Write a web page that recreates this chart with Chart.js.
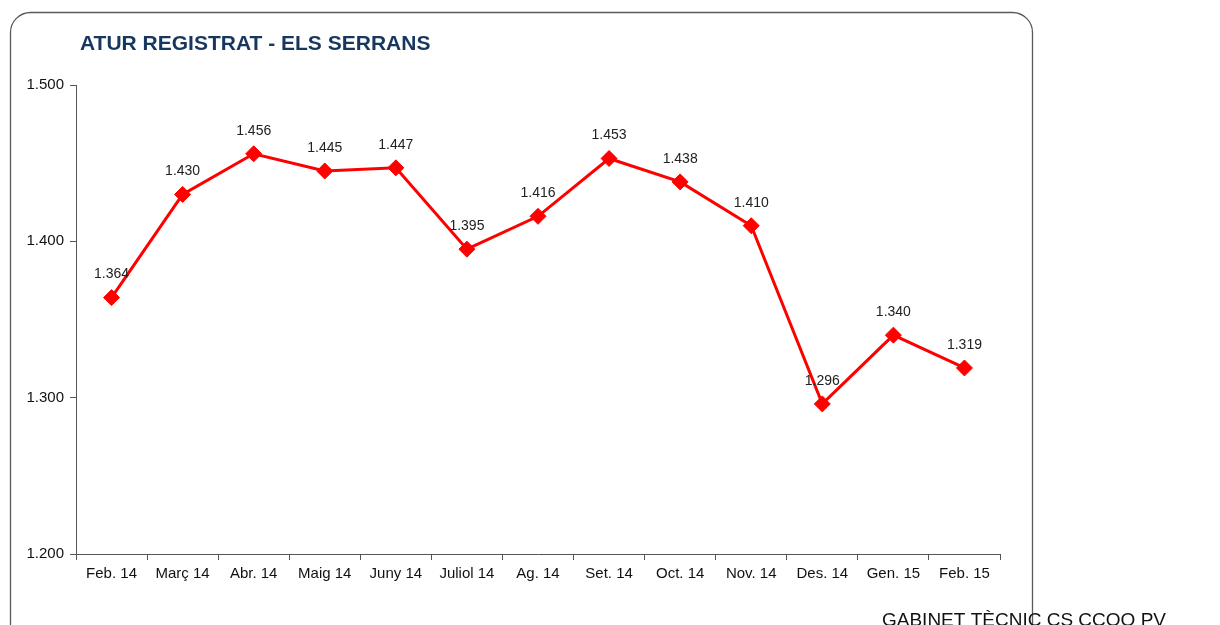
<!DOCTYPE html>
<html>
<head>
<meta charset="utf-8">
<script src="https://cdn.jsdelivr.net/npm/chart.js@4.4.0/dist/chart.umd.min.js"></script>
<style>
  html, body { margin: 0; padding: 0; background: #fff; }
  #wrap { position: relative; width: 1220px; height: 625px; }
</style>
</head>
<body>
<div id="wrap"><canvas id="lineChart" width="1220" height="625"></canvas></div>
<script>
var mesos = ["Feb. 14", "Març 14", "Abr. 14", "Maig 14", "Juny 14", "Juliol 14", "Ag. 14", "Set. 14", "Oct. 14", "Nov. 14", "Des. 14", "Gen. 15", "Feb. 15"];
var aturats = [1364, 1430, 1456, 1445, 1447, 1395, 1416, 1453, 1438, 1410, 1296, 1340, 1319];
var yTicks = [1200, 1300, 1400, 1500];

var titol = "ATUR REGISTRAT - ELS SERRANS";
var peu = "GABINET TÈCNIC CS CCOO PV";

// 1364 -> "1.364"
function punts(v) {
    return String(v).replace(/\B(?=(\d{3})+(?!\d))/g, ".");
}

// marc arrodonit, titol i peu
var marcPlugin = {
    id: 'marc',
    beforeDraw: function(chart) {
        var ctx = chart.ctx;
        ctx.save();
        ctx.fillStyle = '#fff';
        ctx.fillRect(0, 0, chart.width, chart.height);
        ctx.strokeStyle = '#5a5a5a';
        ctx.lineWidth = 1.3;
        ctx.beginPath();
        ctx.roundRect(10.5, 12.5, 1022, 660, 20);
        ctx.stroke();
        ctx.restore();
    },
    afterDraw: function(chart) {
        var ctx = chart.ctx;
        ctx.save();
        ctx.fillStyle = '#17375E';
        ctx.font = 'bold 21px "Liberation Sans", Arial, sans-serif';
        ctx.textBaseline = 'alphabetic';
        ctx.fillText(titol, 80, 50);
        ctx.fillStyle = '#111';
        ctx.font = '19px "Liberation Sans", Arial, sans-serif';
        ctx.fillText(peu, 882, 626);
        ctx.restore();
    }
};

// etiquetes damunt de cada punt
var etiquetesPlugin = {
    id: 'etiquetes',
    afterDatasetsDraw: function(chart) {
        var ctx = chart.ctx;
        var meta = chart.getDatasetMeta(0);
        ctx.save();
        ctx.fillStyle = '#222';
        ctx.font = '14px "Liberation Sans", Arial, sans-serif';
        ctx.textAlign = 'center';
        ctx.textBaseline = 'middle';
        meta.data.forEach(function(pt, i) {
            ctx.fillText(punts(aturats[i]), pt.x, pt.y - 23);
        });
        ctx.restore();
    }
};

window.onload = function() {
    var ctx = document.getElementById("lineChart").getContext('2d');
    var chart = new Chart(ctx, {
        type: 'line',
        data: {
            labels: mesos,
            datasets: [{
                data: aturats,
                borderColor: '#FF0000',
                backgroundColor: '#FF0000',
                borderWidth: 3,
                pointStyle: 'rectRot',
                pointRadius: 8,
                pointHoverRadius: 8,
                pointBorderWidth: 1,
                pointBorderColor: '#FF0000',
                tension: 0
            }]
        },
        options: {
            responsive: false,
            animation: false,
            layout: { padding: { top: 85, right: 220, left: 0, bottom: 0 } },
            plugins: {
                legend: { display: false },
                title: { display: false },
                tooltip: { enabled: false }
            },
            scales: {
                x: {
                    offset: true,
                    afterFit: function(scale) { scale.height = 71; },
                    grid: {
                        offset: true,
                        drawOnChartArea: false,
                        drawTicks: true,
                        tickLength: 6,
                        color: '#555'
                    },
                    border: { display: true, color: '#555', width: 1 },
                    ticks: {
                        color: '#111',
                        padding: 5,
                        maxRotation: 0,
                        autoSkip: false,
                        font: { family: '"Liberation Sans", Arial, sans-serif', size: 15 }
                    }
                },
                y: {
                    min: 1200,
                    max: 1500,
                    afterFit: function(scale) { scale.width = 76; },
                    afterBuildTicks: function(scale) {
                        scale.ticks = yTicks.map(function(v) { return { value: v }; });
                    },
                    grid: {
                        drawOnChartArea: false,
                        drawTicks: true,
                        tickLength: 6,
                        color: '#555'
                    },
                    border: { display: true, color: '#555', width: 1 },
                    ticks: {
                        color: '#111',
                        padding: 6,
                        font: { family: '"Liberation Sans", Arial, sans-serif', size: 15 },
                        callback: function(v) { return punts(v); }
                    }
                }
            }
        },
        plugins: [marcPlugin, etiquetesPlugin]
    });
};
</script>
</body>
</html>
